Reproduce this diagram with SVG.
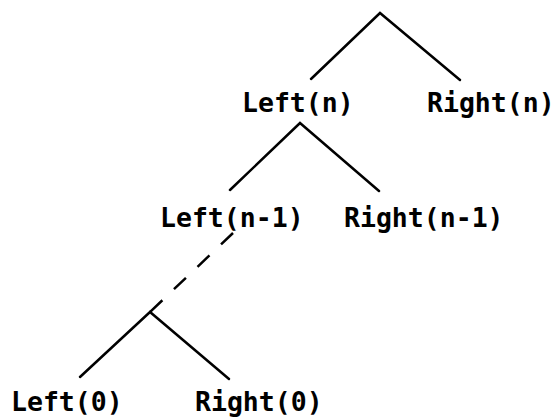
<svg xmlns="http://www.w3.org/2000/svg" width="558" height="418" viewBox="0 0 558 418">
<style>
.lbl{font-family:"DejaVu Sans Mono","Liberation Mono",monospace;font-size:26.5px;font-weight:bold;fill:#000}
.ln{fill:none;stroke:#000;stroke-width:2.5;stroke-linecap:round;stroke-linejoin:miter}
.dash{stroke-dasharray:16.5 16;stroke-linecap:butt}
</style>
<rect width="558" height="418" fill="#fff"/>
<g id="connectors">
<polyline class="ln" points="311,79 380,13 460,80"/>
<polyline class="ln" points="230,190 300,123 379,191"/>
<line class="ln dash" x1="233" y1="233" x2="150" y2="312"/>
<polyline class="ln" points="80,377 150,312 229,379"/>
</g>
<g id="left-n"><text class="lbl" x="242" y="112">Left(n)</text></g>
<g id="right-n"><text class="lbl" x="427" y="112">Right(n)</text></g>
<g id="left-n-1"><text class="lbl" x="160" y="227">Left(n-1)</text></g>
<g id="right-n-1"><text class="lbl" x="344" y="227">Right(n-1)</text></g>
<g id="left-0"><text class="lbl" x="11" y="411">Left(0)</text></g>
<g id="right-0"><text class="lbl" x="195" y="411">Right(0)</text></g>
</svg>
